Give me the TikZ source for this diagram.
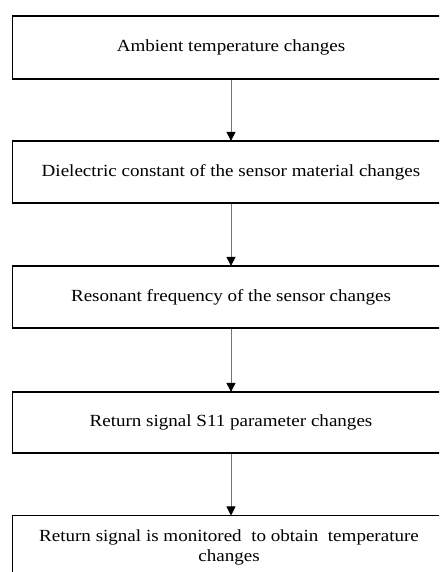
\documentclass[tikz,border=0pt]{standalone}
\usepackage{fontspec}
\setmainfont[FakeStretch=1.12]{Liberation Serif}
\usetikzlibrary{arrows.meta}
\tikzset{
  txt/.style={font=\fontsize{17}{20}\selectfont, text=black},
  stepbox/.style={draw=black, line width=1.2pt, minimum width=437pt, minimum height=62pt,
    inner sep=0pt, align=center, txt},
  flow/.style={draw=black!55, line width=0.7pt, -{Triangle[width=9pt,length=9pt,color=black,fill=black]}, shorten >=-0.5pt}
}
\begin{document}
\begin{tikzpicture}[x=1pt,y=1pt]
\useasboundingbox (0,0) rectangle (439,572);
\clip (0,0) rectangle (439,572);
\fill[white] (0,0) rectangle (439,572);
\node[stepbox, minimum height=63pt] (b1) at (231,524.5) {Ambient temperature changes};
\node[stepbox] (b2) at (231,400) {Dielectric constant of the sensor material changes};
\node[stepbox] (b3) at (231,275) {Resonant frequency of the sensor changes};
\node[stepbox, minimum height=61pt] (b4) at (231,149.5) {Return signal S11 parameter changes};
\node[stepbox, anchor=north] (b5) at (231,57) {\rule{0pt}{0pt}};
\node[txt, align=center, anchor=north, inner sep=0pt] (t5) at (229,42) {Return signal is monitored\ \ to obtain\ \ temperature\\changes};
\draw[flow] (b1.south) -- (b2.north);
\draw[flow] (b2.south) -- (b3.north);
\draw[flow] (b3.south) -- (b4.north);
\draw[flow] (b4.south) -- (b5.north);
\end{tikzpicture}
\end{document}
